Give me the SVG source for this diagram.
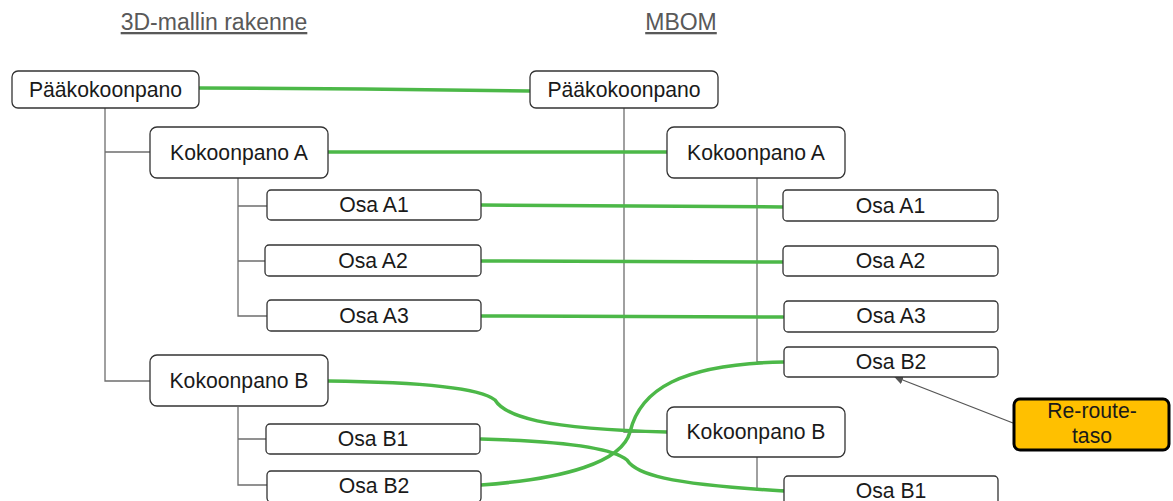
<svg xmlns="http://www.w3.org/2000/svg" width="1173" height="501" viewBox="0 0 1173 501">
<style>
.box{fill:#fff;stroke:#333;stroke-width:1.3}
.t{font-family:"Liberation Sans",Arial,sans-serif;font-size:21.2px;fill:#1a1a1a;text-anchor:middle}
.h{font-family:"Liberation Sans",Arial,sans-serif;font-size:23px;fill:#595959;text-anchor:middle;text-decoration:underline}
.tree{fill:none;stroke:#6e6e6e;stroke-width:1.3}
.g{fill:none;stroke:#4cb848;stroke-width:3.5;stroke-linecap:round}
</style>
<defs>
<marker id="ah" viewBox="0 0 10 10" refX="9" refY="5" markerWidth="9" markerHeight="9" markerUnits="userSpaceOnUse" orient="auto">
<path d="M0,0 L10,5 L0,10 z" fill="#555"/>
</marker>
</defs>
<rect width="1173" height="501" fill="#fff"/>
<text class="h" x="214" y="30">3D-mallin rakenne</text>
<text class="h" x="681" y="30">MBOM</text>

<g id="tree-lines">
<path class="tree" d="M105,107 V381 H150 M105,152 H150"/>
<path class="tree" d="M238,178 V316 H267 M238,206 H267 M238,261 H265"/>
<path class="tree" d="M238,407 V485 H267 M238,439 H266"/>
<path class="tree" d="M624,108 V432 H667"/>
<path class="tree" d="M757,178 V362 H784"/>
<path class="tree" d="M757,457 V490 H784"/>
</g>

<g id="connectors">
<path class="g" d="M199,88 L363,89 L530,91"/>
<path class="g" d="M328,152 L667,152"/>
<path class="g" d="M481,205 L783,207"/>
<path class="g" d="M481,261 L783,262"/>
<path class="g" d="M481,316 L783,317"/>
<path class="g" d="M328,381 C420,382 480,388 495,400 C505,416 540,429 667,432"/>
<path class="g" d="M481,439 C560,441 612,447 627,460 C636,474 665,484 784,491"/>
<path class="g" d="M481,485 C565,479 622,462 630,432 C640,390 680,364 784,362"/>
<path d="M1013,423 L895,377" fill="none" stroke="#555" stroke-width="1.3" marker-end="url(#ah)"/>
</g>

<g id="l-paa"><rect class="box" x="12" y="71" width="187" height="37" rx="6"/><text class="t" x="105.5" y="97">Pääkokoonpano</text></g>
<g id="l-kokA"><rect class="box" x="150" y="127" width="178" height="51" rx="7"/><text class="t" x="239" y="160">Kokoonpano A</text></g>
<g id="l-A1"><rect class="box" x="267" y="190" width="214" height="30" rx="4"/><text class="t" x="374" y="212">Osa A1</text></g>
<g id="l-A2"><rect class="box" x="265" y="245" width="216" height="31" rx="4"/><text class="t" x="373" y="268">Osa A2</text></g>
<g id="l-A3"><rect class="box" x="267" y="300" width="214" height="31" rx="4"/><text class="t" x="374" y="323">Osa A3</text></g>
<g id="l-kokB"><rect class="box" x="150" y="355" width="178" height="51" rx="7"/><text class="t" x="239" y="388">Kokoonpano B</text></g>
<g id="l-B1"><rect class="box" x="266" y="424" width="214" height="30" rx="4"/><text class="t" x="373" y="446">Osa B1</text></g>
<g id="l-B2"><rect class="box" x="267" y="471" width="214" height="31" rx="4"/><text class="t" x="374" y="493">Osa B2</text></g>

<g id="r-paa"><rect class="box" x="530" y="71" width="188" height="37" rx="6"/><text class="t" x="624" y="97">Pääkokoonpano</text></g>
<g id="r-kokA"><rect class="box" x="667" y="127" width="178" height="51" rx="7"/><text class="t" x="756" y="160">Kokoonpano A</text></g>
<g id="r-A1"><rect class="box" x="783" y="190" width="215" height="31" rx="4"/><text class="t" x="890.5" y="213">Osa A1</text></g>
<g id="r-A2"><rect class="box" x="783" y="246" width="215" height="30" rx="4"/><text class="t" x="890.5" y="268">Osa A2</text></g>
<g id="r-A3"><rect class="box" x="784" y="301" width="214" height="31" rx="4"/><text class="t" x="891" y="323">Osa A3</text></g>
<g id="r-B2"><rect class="box" x="784" y="347" width="214" height="30" rx="4"/><text class="t" x="891" y="369">Osa B2</text></g>
<g id="r-kokB"><rect class="box" x="667" y="407" width="178" height="50" rx="7"/><text class="t" x="756" y="439">Kokoonpano B</text></g>
<g id="r-B1"><rect class="box" x="784" y="476" width="214" height="32" rx="4"/><text class="t" x="891" y="498">Osa B1</text></g>

<g id="reroute"><rect x="1014" y="399" width="155" height="51" rx="6" fill="#ffc000" stroke="#000" stroke-width="3"/><text class="t" x="1092" y="418">Re-route-</text><text class="t" x="1092" y="443">taso</text></g>
</svg>
